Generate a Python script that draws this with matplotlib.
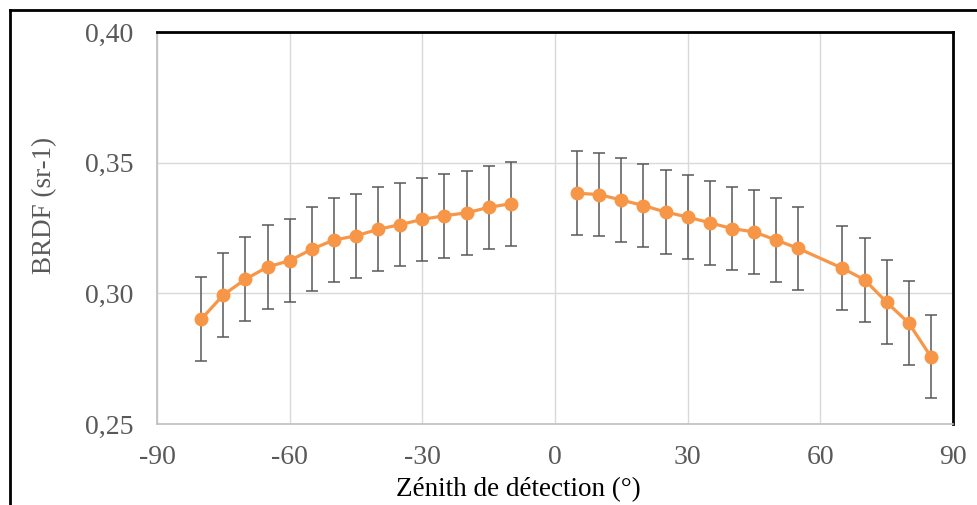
import numpy as np
import matplotlib.pyplot as plt
from matplotlib.lines import Line2D

# Data
x_left = [-80, -75, -70, -65, -60, -55, -50, -45, -40, -35, -30, -25, -20, -15, -10]
y_left = [0.2901, 0.2994, 0.3054, 0.3101, 0.3125, 0.3169, 0.3204, 0.3220,
          0.3245, 0.3263, 0.3283, 0.3297, 0.3308, 0.3329, 0.3343]
err_left = [0.016] * len(x_left)

x_right = [5, 10, 15, 20, 25, 30, 35, 40, 45, 50, 55, 65, 70, 75, 80, 85]
y_right = [0.3383, 0.3378, 0.3357, 0.3336, 0.3311, 0.3292, 0.3270, 0.3248,
           0.3235, 0.3204, 0.3172, 0.3096, 0.3052, 0.2966, 0.2886, 0.2758]
err_right = [0.016] * len(x_right)

xticks = [-90, -60, -30, 0, 30, 60, 90]
yticks = [0.25, 0.30, 0.35, 0.40]
ytick_labels = ["0,25", "0,30", "0,35", "0,40"]

plt.rcParams['font.family'] = ['Liberation Serif', 'DejaVu Serif']
plt.rcParams['axes.unicode_minus'] = False

orange = "#F79646"
grey_txt = "#595959"

fig = plt.figure(figsize=(9.77, 5.05), dpi=100)
ax = fig.add_axes([157/977, 81/505, (953-157)/977, (424-32)/505])

for xs, ys, es in [(x_left, y_left, err_left), (x_right, y_right, err_right)]:
    ax.errorbar(xs, ys, yerr=es, fmt='none', ecolor="#595959", elinewidth=1.1,
                capsize=4, capthick=1.1, zorder=3)
    ax.plot(xs, ys, color=orange, lw=2.3, marker='o', ms=9, zorder=4)

ax.set_xlim(-90, 90)
ax.set_ylim(0.25, 0.40)
ax.set_xticks(xticks)
ax.set_yticks(yticks)
ax.set_yticklabels(ytick_labels)
ax.tick_params(length=0, labelsize=20, colors=grey_txt)
ax.tick_params(axis='x', pad=15)
ax.tick_params(axis='y', pad=17)
ax.grid(True, color="#D9D9D9", lw=1)
ax.set_axisbelow(True)

for s in ['left', 'bottom']:
    ax.spines[s].set_color("#BFBFBF")
    ax.spines[s].set_linewidth(1.2)
for s in ['top', 'right']:
    ax.spines[s].set_color("black")
    ax.spines[s].set_linewidth(2)

ax.set_xlabel("Zénith de détection (°)", fontsize=19.5, color="black")
ax.set_ylabel("BRDF (sr-1)", fontsize=19.5, color=grey_txt)
ax.xaxis.set_label_coords((518 - 157) / 796, -0.135)
ax.yaxis.set_label_coords(-(157 - 57) / 796, (424 - 205) / 392)

# outer frame lines (cropped border)
fig.add_artist(Line2D([10/977, 10/977], [0, 1 - 10/505], color="black", lw=2))
fig.add_artist(Line2D([10/977, 1], [1 - 10/505, 1 - 10/505], color="black", lw=2))

fig.savefig("out.png", dpi=100)
